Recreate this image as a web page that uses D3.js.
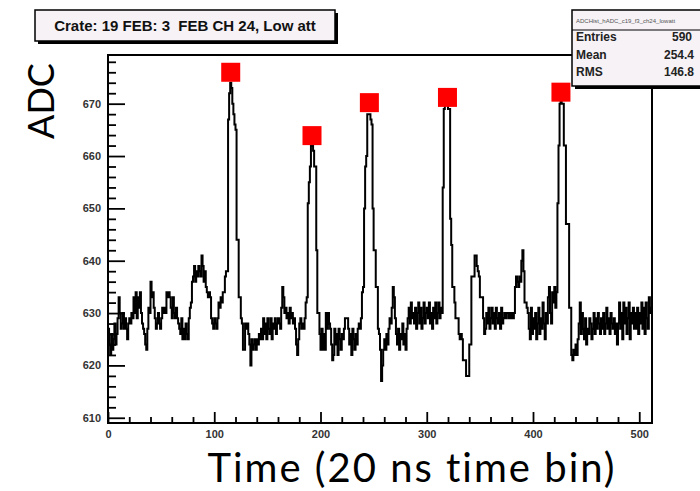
<!DOCTYPE html>
<html>
<head>
<meta charset="utf-8">
<script src="https://cdn.jsdelivr.net/npm/d3@7"></script>
<style>
  html, body { margin: 0; padding: 0; background: #fff; }
  svg { display: block; }
</style>
</head>
<body>
<svg id="chart" width="700" height="491"></svg>
<script>
// ---- Data ----
const titleText = "Crate: 19 FEB: 3  FEB CH 24, Low att";
const xLabel = "Time (20 ns time bin)";
const yLabel = "ADC";
const xTicks = [0, 100, 200, 300, 400, 500];
const yTicks = [610, 620, 630, 640, 650, 660, 670];
const xDomain = [0, 512];
const yDomain = [609, 679.3];
const statsName = "ADCHist_hADC_c19_f3_ch24_lowatt";
const statsLabels = ["Entries", "Mean", "RMS"];
const statsValues = ["590", "254.4", "146.8"];

// ADC value per time bin (512 bins)
const adc = [
  627,624,622,626,623,625,628,624,626,629,633,630,627,628,630,627,
  629,627,625,628,629,628,630,629,633,630,634,629,633,631,634,630,
  628,627,626,624,623,627,631,630,636,633,634,631,629,627,628,630,
  628,627,629,631,630,631,630,634,633,634,633,631,629,633,630,629,
  631,629,628,627,626,629,625,627,625,628,626,625,629,631,632,636,
  637,639,636,638,637,639,638,637,641,639,636,638,635,634,633,634,
  633,629,628,627,629,628,627,629,632,631,633,632,634,634,637,638,
  638,667,672,674,673,670,668,666,665,644,644,633,633,629,628,623,
  623,628,627,628,626,624,620,625,623,624,625,623,625,624,626,625,
  627,625,629,626,628,625,629,627,626,629,625,628,627,629,626,628,
  629,628,627,631,635,633,630,631,629,630,628,631,629,630,628,629,
  627,624,622,625,628,629,627,628,627,629,632,633,651,655,658,662,
  662,661,658,658,642,630,630,626,623,627,623,626,623,630,627,630,
  628,627,624,621,622,627,624,626,622,627,625,623,626,625,627,629,
  629,629,627,624,626,622,627,625,623,626,624,627,628,627,629,634,
  635,650,658,660,668,668,668,667,666,650,642,642,635,635,627,626,
  623,617,620,623,625,623,626,624,627,629,628,631,635,633,629,626,
  624,627,623,626,625,628,624,626,623,627,629,631,628,632,629,630,
  628,631,627,630,632,628,631,627,629,632,628,630,631,629,632,628,
  630,627,631,629,632,628,630,632,629,631,630,654,669,670,670,670,
  669,669,648,643,635,635,632,629,629,629,626,625,626,625,621,621,
  621,618,618,618,624,624,637,637,637,641,641,639,638,637,633,633,
  633,629,626,627,630,628,631,627,629,631,628,630,627,631,629,628,
  630,627,631,628,629,630,629,630,630,629,630,629,630,629,630,635,
  637,636,635,637,636,640,642,638,632,632,631,630,627,625,631,626,
  629,627,630,625,628,631,626,629,627,632,628,625,630,628,633,635,
  630,628,634,632,635,631,634,651,662,670,671,670,670,662,662,647,
  647,647,631,631,622,621,623,622,624,622,625,628,632,626,630,627,
  625,629,624,627,626,629,628,625,627,630,626,629,627,630,628,626,
  629,627,630,626,628,631,627,629,626,630,628,627,629,626,628,624,
  628,632,627,630,625,632,628,631,626,629,632,625,630,628,631,627,
  630,627,631,626,630,628,632,627,631,626,632,629,627,633,630,631
];

// Peak markers found (bin position, ADC)
const peakBins = [115.5, 192, 246, 319.5, 426.3];
const peakAdc  = [676, 663.9, 670.2, 671.2, 672.2];

// ---- Drawing ----
const svg = d3.select("#chart");
const frame = { left: 108, right: 652, top: 55, bottom: 423 };

const x = d3.scaleLinear().domain(xDomain).range([frame.left, frame.right]);
const y = d3.scaleLinear().domain(yDomain).range([frame.bottom, frame.top]);

const boxFill = "#f6f2f6";
const rootFont = "'Liberation Sans', Arial, sans-serif";

// Histogram as step line
const pts = [];
adc.forEach((v, i) => { pts.push([i, v]); pts.push([i + 1, v]); });
const line = d3.line().x(d => x(d[0])).y(d => y(d[1]));

svg.append("path")
  .datum(pts)
  .attr("d", line)
  .attr("fill", "none")
  .attr("stroke", "#000")
  .attr("stroke-width", 2)
  .attr("stroke-linejoin", "miter");

// Y axis: major + minor ticks pointing inward
const yMinor = d3.range(610, 680, 2).filter(v => v % 10 !== 0 && v <= yDomain[1]);
const yMinorAxis = d3.axisLeft(y).tickValues(yMinor).tickSizeInner(-8).tickSizeOuter(0).tickFormat("");
const yMajorAxis = d3.axisLeft(y).tickValues(yTicks).tickSizeInner(-17).tickSizeOuter(0).tickPadding(7).tickFormat(d3.format("d"));

const gyMin = svg.append("g").attr("transform", `translate(${frame.left},0)`).call(yMinorAxis);
const gyMaj = svg.append("g").attr("transform", `translate(${frame.left},0)`).call(yMajorAxis);

// X axis
const xMinor = d3.range(0, 513, 20).filter(v => v % 100 !== 0);
const xMinorAxis = d3.axisBottom(x).tickValues(xMinor).tickSizeInner(-6).tickSizeOuter(0).tickFormat("");
const xMajorAxis = d3.axisBottom(x).tickValues(xTicks).tickSizeInner(-11).tickSizeOuter(0).tickPadding(7).tickFormat(d3.format("d"));
const gxMin = svg.append("g").attr("transform", `translate(0,${frame.bottom})`).call(xMinorAxis);
const gxMaj = svg.append("g").attr("transform", `translate(0,${frame.bottom})`).call(xMajorAxis);

[gyMin, gyMaj, gxMin, gxMaj].forEach(g => {
  g.select(".domain").remove();
  g.selectAll("line").attr("stroke", "#000").attr("stroke-width", 1.8);
  g.selectAll("text")
    .attr("font-family", rootFont)
    .attr("font-weight", "bold")
    .attr("font-size", 11)
    .attr("fill", "#333");
});

// Frame
svg.append("rect")
  .attr("x", frame.left).attr("y", frame.top)
  .attr("width", frame.right - frame.left).attr("height", frame.bottom - frame.top)
  .attr("fill", "none").attr("stroke", "#000").attr("stroke-width", 2);

// Peak markers
svg.append("g").selectAll("rect")
  .data(peakBins.map((b, i) => [b, peakAdc[i]]))
  .join("rect")
  .attr("x", d => x(d[0]) - 9.5)
  .attr("y", d => y(d[1]) - 9.5)
  .attr("width", 19).attr("height", 19)
  .attr("fill", "#ff0000");

// Title box
const tb = { x: 35, y: 10, w: 300, h: 31 };
svg.append("rect").attr("x", tb.x + 3).attr("y", tb.y + 3).attr("width", tb.w).attr("height", tb.h).attr("fill", "#000");
svg.append("rect").attr("x", tb.x).attr("y", tb.y).attr("width", tb.w).attr("height", tb.h)
  .attr("fill", boxFill).attr("stroke", "#000").attr("stroke-width", 1.5);
svg.append("text").attr("x", tb.x + tb.w / 2).attr("y", tb.y + 21)
  .attr("text-anchor", "middle")
  .attr("xml:space", "preserve")
  .style("white-space", "pre")
  .attr("font-family", rootFont)
  .attr("font-weight", "bold").attr("font-size", 15).attr("fill", "#111")
  .text(titleText);

// Stats box
const sb = { x: 572, y: 10, w: 140, h: 76 };
svg.append("rect").attr("x", sb.x + 3).attr("y", sb.y + 3).attr("width", sb.w).attr("height", sb.h).attr("fill", "#000");
svg.append("rect").attr("x", sb.x).attr("y", sb.y).attr("width", sb.w).attr("height", sb.h)
  .attr("fill", boxFill).attr("stroke", "#000").attr("stroke-width", 1.5);
svg.append("line").attr("x1", sb.x).attr("x2", sb.x + sb.w).attr("y1", sb.y + 20).attr("y2", sb.y + 20)
  .attr("stroke", "#000").attr("stroke-width", 1.2);
svg.append("text").attr("x", sb.x + 4).attr("y", sb.y + 13)
  .attr("font-family", rootFont)
  .attr("font-size", 6).attr("fill", "#555").text(statsName);
const statRows = [41, 59, 76];
statsLabels.forEach((lab, i) => {
  svg.append("text").attr("x", sb.x + 4).attr("y", statRows[i])
    .attr("font-family", rootFont)
    .attr("font-weight", "bold").attr("font-size", 12).attr("fill", "#222").text(lab);
  svg.append("text").attr("x", i === 0 ? 672 : 694).attr("y", statRows[i])
    .attr("text-anchor", i === 0 ? "start" : "end")
    .attr("font-family", rootFont)
    .attr("font-weight", "bold").attr("font-size", 12).attr("fill", "#222").text(statsValues[i]);
});

// Axis titles
svg.append("text")
  .attr("transform", "translate(54,101) rotate(-90)")
  .attr("text-anchor", "middle")
  .attr("font-family", "Lato, 'Open Sans', sans-serif")
  .attr("font-size", 36).attr("fill", "#000")
  .text(yLabel);
svg.append("text")
  .attr("x", 412).attr("y", 482)
  .attr("text-anchor", "middle")
  .style("font-variant-ligatures", "none")
  .attr("letter-spacing", 2)
  .attr("font-family", "Lato, 'Open Sans', sans-serif")
  .attr("font-size", 40).attr("fill", "#000")
  .text(xLabel);
</script>
</body>
</html>
